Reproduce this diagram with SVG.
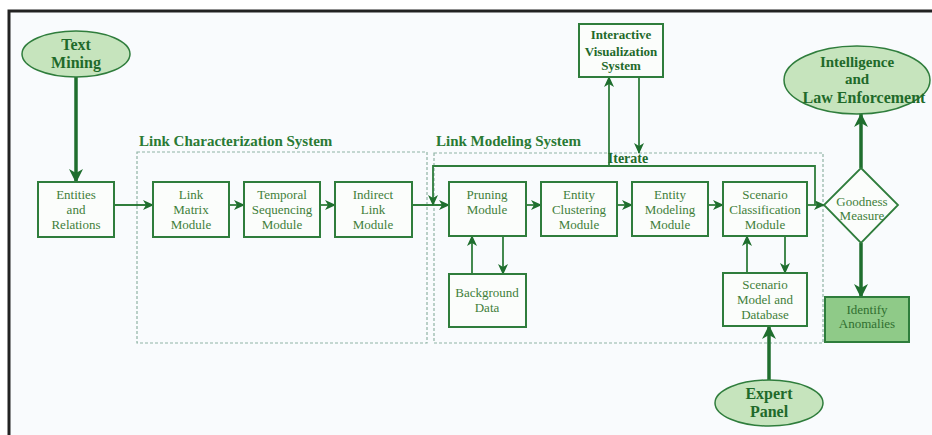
<svg xmlns="http://www.w3.org/2000/svg" width="932" height="435" viewBox="0 0 932 435">
<style>
.box{fill:#fbfdfb;stroke:#2f7d3c;stroke-width:2}
.ell{fill:#c6e4bd;stroke:#2f7d3c;stroke-width:1.5}
.dash{fill:none;stroke:#8fb3a5;stroke-width:1.2;stroke-dasharray:3 2}
.t{font-family:"Liberation Serif",serif;font-size:13px;fill:#3f7f3a;text-anchor:middle}
.b{font-family:"Liberation Serif",serif;font-weight:bold;fill:#1f6a2a;text-anchor:middle}
.lbl{font-family:"Liberation Serif",serif;font-weight:bold;font-size:15px;fill:#2a7a34}
.c{fill:none;stroke:#2f7d3c;stroke-width:1.8}
.ct{fill:none;stroke:#1f6e2e;stroke-width:3.5}
</style>
<defs>
<marker id="a" markerUnits="userSpaceOnUse" markerWidth="11" markerHeight="10" refX="10" refY="5" orient="auto"><path d="M0,0 L11,5 L0,10 L3,5 Z" fill="#1f6e2e"/></marker>
<marker id="at" markerUnits="userSpaceOnUse" markerWidth="14" markerHeight="14" refX="13" refY="7" orient="auto"><path d="M0,0 L14,7 L0,14 L4,7 Z" fill="#1f6e2e"/></marker>
</defs>
<rect x="0" y="0" width="932" height="435" fill="#ffffff"/>
<rect x="10" y="12" width="922" height="423" fill="#f9fbfd"/>
<path d="M9,435 V11 H932" fill="none" stroke="#222" stroke-width="3"/>

<g id="containers">
<rect class="dash" x="137" y="152" width="290" height="191"/>
<rect class="dash" x="434" y="153" width="389" height="190"/>
<text class="lbl" x="139" y="146">Link Characterization System</text>
<text class="lbl" x="436" y="146">Link Modeling System</text>
</g>

<g id="connectors">
<path class="ct" d="M76,77 V182" marker-end="url(#at)"/>
<path class="c" d="M114,205 H153" marker-end="url(#a)"/>
<path class="c" d="M229,205 H244" marker-end="url(#a)"/>
<path class="c" d="M320,205 H335" marker-end="url(#a)"/>
<path class="c" d="M412,205 H449" marker-end="url(#a)"/>
<path class="c" d="M526,205 H541" marker-end="url(#a)"/>
<path class="c" d="M617,205 H632" marker-end="url(#a)"/>
<path class="c" d="M708,205 H723" marker-end="url(#a)"/>
<path class="c" d="M807,205 H824" marker-end="url(#a)"/>
<path class="c" d="M815,205 V166 H433 V205" marker-end="url(#a)"/>
<path class="c" d="M609,166 V77" marker-end="url(#a)"/>
<path class="c" d="M639,77 V153" marker-end="url(#a)"/>
<path class="c" d="M472,274 V236" marker-end="url(#a)"/>
<path class="c" d="M503,236 V274" marker-end="url(#a)"/>
<path class="c" d="M747,273 V236" marker-end="url(#a)"/>
<path class="c" d="M785,236 V273" marker-end="url(#a)"/>
<path class="ct" d="M861,168 V114" marker-end="url(#at)"/>
<path class="ct" d="M861,243 V297" marker-end="url(#at)"/>
<path class="ct" d="M769,380 V326" marker-end="url(#at)"/>
<text class="b" x="628" y="163" font-size="14">Iterate</text>
</g>

<g id="text-mining">
<ellipse class="ell" cx="76" cy="54" rx="54" ry="23"/>
<text class="b" font-size="16" x="76" y="50">Text</text>
<text class="b" font-size="16" x="76" y="68">Mining</text>
</g>

<g id="entities">
<rect class="box" x="38" y="182" width="76" height="55"/>
<text class="t" x="76" y="199">Entities</text>
<text class="t" x="76" y="214">and</text>
<text class="t" x="76" y="229">Relations</text>
</g>

<g id="link-matrix">
<rect class="box" x="153" y="182" width="76" height="55"/>
<text class="t" x="191" y="199">Link</text>
<text class="t" x="191" y="214">Matrix</text>
<text class="t" x="191" y="229">Module</text>
</g>

<g id="temporal">
<rect class="box" x="244" y="182" width="76" height="55"/>
<text class="t" x="282" y="199">Temporal</text>
<text class="t" x="282" y="214">Sequencing</text>
<text class="t" x="282" y="229">Module</text>
</g>

<g id="indirect">
<rect class="box" x="335" y="182" width="77" height="55"/>
<text class="t" x="373" y="199">Indirect</text>
<text class="t" x="373" y="214">Link</text>
<text class="t" x="373" y="229">Module</text>
</g>

<g id="pruning">
<rect class="box" x="449" y="182" width="77" height="54"/>
<text class="t" x="487" y="199">Pruning</text>
<text class="t" x="487" y="214">Module</text>
</g>

<g id="entity-clustering">
<rect class="box" x="541" y="182" width="76" height="54"/>
<text class="t" x="579" y="199">Entity</text>
<text class="t" x="579" y="214">Clustering</text>
<text class="t" x="579" y="229">Module</text>
</g>

<g id="entity-modeling">
<rect class="box" x="632" y="182" width="76" height="54"/>
<text class="t" x="670" y="199">Entity</text>
<text class="t" x="670" y="214">Modeling</text>
<text class="t" x="670" y="229">Module</text>
</g>

<g id="scenario-classification">
<rect class="box" x="723" y="182" width="84" height="54"/>
<text class="t" x="765" y="199">Scenario</text>
<text class="t" x="765" y="214">Classification</text>
<text class="t" x="765" y="229">Module</text>
</g>

<g id="background-data">
<rect class="box" x="449" y="274" width="77" height="53"/>
<text class="t" x="487" y="297">Background</text>
<text class="t" x="487" y="312">Data</text>
</g>

<g id="scenario-model">
<rect class="box" x="723" y="273" width="84" height="53"/>
<text class="t" x="765" y="289">Scenario</text>
<text class="t" x="765" y="304">Model and</text>
<text class="t" x="765" y="319">Database</text>
</g>

<g id="interactive-visualization">
<rect class="box" x="579" y="24" width="84" height="53"/>
<text class="b" font-size="13" x="621" y="39">Interactive</text>
<text class="b" font-size="13" x="621" y="56">Visualization</text>
<text class="b" font-size="13" x="621" y="70">System</text>
</g>

<g id="goodness">
<polygon points="861,168 898,205 861,243 824,205" fill="#fbfdfb" stroke="#2f7d3c" stroke-width="1.8"/>
<text class="t" x="862" y="206">Goodness</text>
<text class="t" x="862" y="220">Measure</text>
</g>

<g id="intelligence">
<ellipse class="ell" cx="857" cy="80" rx="73" ry="34"/>
<text class="b" font-size="15" x="857" y="67">Intelligence</text>
<text class="b" font-size="15" x="857" y="84">and</text>
<text class="b" font-size="16" x="864" y="103">Law Enforcement</text>
</g>

<g id="identify-anomalies">
<rect x="825" y="297" width="84" height="45" fill="#8fca88" stroke="#2f7d3c" stroke-width="2"/>
<text class="t" x="867" y="314" fill="#2f6f30" style="fill:#2f6f30">Identify</text>
<text class="t" x="867" y="328" style="fill:#2f6f30">Anomalies</text>
</g>

<g id="expert-panel">
<ellipse class="ell" cx="769" cy="403" rx="54" ry="23"/>
<text class="b" font-size="16" x="769" y="399">Expert</text>
<text class="b" font-size="16" x="769" y="417">Panel</text>
</g>
</svg>
